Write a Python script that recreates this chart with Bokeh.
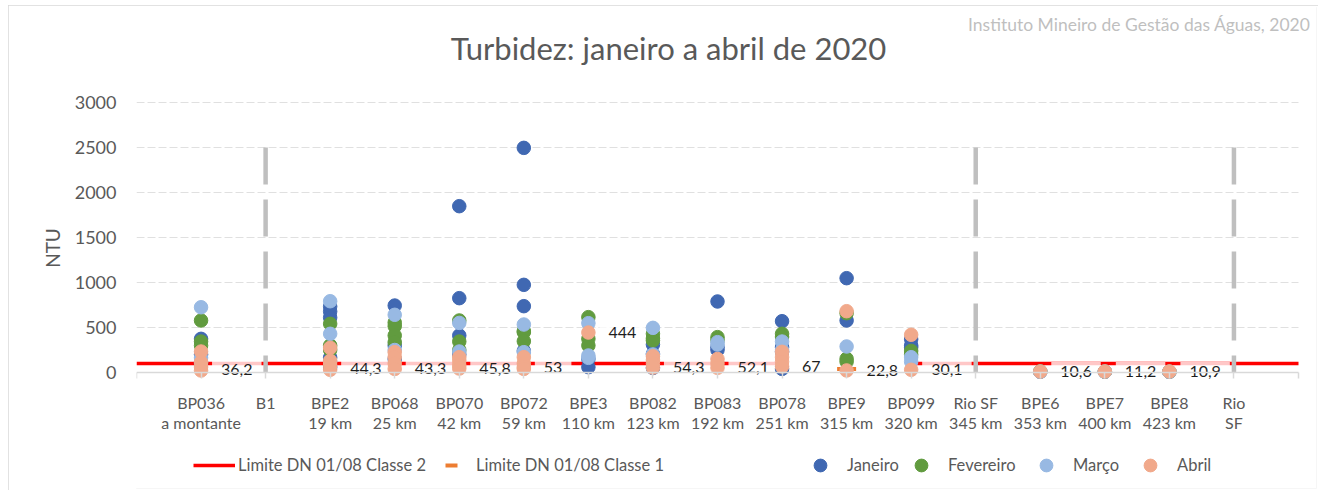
from bokeh.plotting import figure
from bokeh.models import Range1d, FixedTicker, Legend, LegendItem, Label
from bokeh.core.properties import value
from bokeh.embed import file_html
from bokeh.resources import INLINE

# ---------------- data ----------------
stations = ["BP036\na montante", "B1", "BPE2\n19 km", "BP068\n25 km", "BP070\n42 km",
            "BP072\n59 km", "BPE3\n110 km", "BP082\n123 km", "BP083\n192 km",
            "BP078\n251 km", "BPE9\n315 km", "BP099\n320 km", "Rio SF\n345 km",
            "BPE6\n353 km", "BPE7\n400 km", "BPE8\n423 km", "Rio\nSF"]

janeiro = [[374, 200, 100], [], [733, 678, 610, 166, 60], [744, 300, 150],
           [1848, 826, 411, 200], [2496, 974, 737, 240], [150, 59], [311, 207, 50],
           [789, 281, 250], [570, 281, 230, 40], [1048, 578], [370, 300, 280], [],
           [8], [9], [8], []]
fevereiro = [[578, 344, 300], [], [541, 300, 250], [555, 515, 411, 337],
             [578, 344, 250], [460, 448, 348], [615, 374, 300], [430, 380, 356],
             [393, 360], [430, 395], [659, 152, 120], [240, 200], [],
             [12], [10], [9], []]
marco = [[725, 163, 120], [], [792, 430, 120], [641, 250], [551, 233], [533, 226],
         [548, 189, 163], [496, 200], [337, 310], [344, 250], [289], [170, 120], [],
         [9], [10], [8], []]
abril = [[233, 115, 60, 22], [], [274, 130, 80, 30], [226, 170, 100, 40],
         [170, 133, 80, 44], [170, 100, 60, 40], [444], [180, 140, 100, 54.3],
         [150, 100, 52.1], [230, 170, 120, 67], [681, 22.8], [419, 30.1], [],
         [10.6], [11.2], [10.9], []]

label_values = [36.2, None, 44.3, 43.3, 45.8, 53, 444, 54.3, 52.1, 67, 22.8, 30.1,
                None, 10.6, 11.2, 10.9, None]

# Classe 2 limit along the axis positions 0..18 (gap at BPE9, which is Classe 1)
limite_classe2 = [100, 100, 100, 100, 100, 100, 100, 100, 100, 100, 100, None,
                  100, 100, 100, 100, 100, 100, 100]
limite_classe1 = [None, None, None, None, None, None, None, None, None, None, 40,
                  None, None, None, None, None, None]
divisor_topo = [None, 2500, None, None, None, None, None, None, None, None, None,
                None, 2500, None, None, None, 2500]

y_ticks = [0, 500, 1000, 1500, 2000, 2500, 3000]

months = [("Janeiro", janeiro, "#4068B2"), ("Fevereiro", fevereiro, "#619B3F"),
          ("Março", marco, "#98B9E3"), ("Abril", abril, "#F1A98B")]

# ---------------- layout constants (page pixels) ----------------
FONT = "Lato"
TXT = "#595959"
PX_Y = 0.09          # pixels per NTU
PX_X = 1162 / 18     # pixels per axis unit
Y0_PAGE = 372        # page y of NTU = 0
FL, FT, FB, FR = 136, 7, 488, 1316   # frame edges in page pixels
XMAX = len(stations) + 1

p = figure(width=1310, height=485,
           x_range=Range1d(0, XMAX + (FR - 1298) / PX_X),
           y_range=Range1d(-(FB - Y0_PAGE) / PX_Y, (Y0_PAGE - FT) / PX_Y),
           output_backend="svg", toolbar_location=None,
           min_border_left=FL - 8, min_border_right=2, min_border_top=2,
           min_border_bottom=2)
p.margin = (5, 0, 0, 8)
p.title.visible = False
p.outline_line_color = None
p.background_fill_color = "white"
p.border_fill_color = "white"
p.styles = {"outline": "2px solid #D9D9D9", "outline-offset": "-2px"}

xa = p.xaxis[0]
xa.ticker = FixedTicker(ticks=list(range(XMAX + 1)))
overrides = {0: "", XMAX: ""}
for i, s in enumerate(stations):
    overrides[i + 1] = s
xa.major_label_overrides = overrides
xa.fixed_location = 0
xa.bounds = (0, XMAX)
xa.axis_line_color = "#D9D9D9"
xa.axis_line_width = 1.5
xa.major_tick_line_color = "#D9D9D9"
xa.major_tick_line_width = 1.5
xa.major_tick_in = 0
xa.major_tick_out = 6
xa.minor_tick_line_color = None
xa.major_label_text_font = FONT
xa.major_label_text_font_size = "16px"
xa.major_label_text_color = TXT
xa.major_label_text_line_height = 1.1
xa.major_label_standoff = 14

ya = p.yaxis[0]
ya.ticker = FixedTicker(ticks=y_ticks)
ya.axis_line_color = None
ya.major_tick_line_color = None
ya.major_tick_in = 0
ya.major_tick_out = 0
ya.minor_tick_line_color = None
ya.minor_tick_in = 0
ya.minor_tick_out = 0
ya.major_label_standoff = 20
ya.major_label_text_font = FONT
ya.major_label_text_font_size = "18px"
ya.major_label_text_color = TXT
ya.axis_label = "NTU"
ya.axis_label_text_font = FONT
ya.axis_label_text_font_size = "19px"
ya.axis_label_text_font_style = "normal"
ya.axis_label_text_color = TXT
ya.axis_label_standoff = 8

p.xgrid.visible = False
p.ygrid.visible = False
gy = y_ticks[1:]
p.segment(x0=[0] * len(gy), y0=gy, x1=[XMAX] * len(gy), y1=gy,
          line_color="#E0E0E0", line_width=1, line_dash="8 3")

# Classe 2 limit line
lx = list(range(len(limite_classe2)))
ly = [float("nan") if v is None else v for v in limite_classe2]
r_c2 = p.line(lx, ly, line_color="#FF0000", line_width=3.5)

# dividers
dx = [i + 1 for i, v in enumerate(divisor_topo) if v is not None]
dy = [v for v in divisor_topo if v is not None]
p.segment(x0=dx, y0=dy, x1=dx, y1=[0] * len(dx), line_color="#BFBFBF",
          line_width=4.5, line_dash="37 15")

# data labels (with semi-transparent white box)
tx = [i + 1 for i, v in enumerate(label_values) if v is not None]
ty = [v for v in label_values if v is not None]
tt = [("%g" % v).replace(".", ",") for v in label_values if v is not None]
p.text(x=tx, y=ty, text=tt, x_offset=11, text_align="left", text_baseline="middle",
       text_font=value(FONT), text_font_size="16px", text_color="#1E1E1E",
       background_fill_color="white", background_fill_alpha=0.78,
       padding=dict(left=9, right=9, top=4, bottom=4))

# Classe 1 limit marker
c1x = [i + 1 for i, v in enumerate(limite_classe1) if v is not None]
c1y = [v for v in limite_classe1 if v is not None]
r_c1 = p.scatter(c1x, c1y, marker="dash", size=19, line_color="#ED7D31", line_width=4)

# month points
month_renderers = []
for name, data, color in months:
    xs, ys = [], []
    for i, vals in enumerate(data):
        for v in vals:
            xs.append(i + 1)
            ys.append(v)
    r = p.scatter(xs, ys, size=13.5, fill_color=color, line_color=color, line_width=1)
    month_renderers.append((name, r))

# title & source (screen units are relative to the frame's bottom-left corner)
p.add_layout(Label(x=668 - FL, y=FB - 47, x_units="screen", y_units="screen",
                   text="Turbidez: janeiro a abril de 2020", text_align="center",
                   text_baseline="middle", text_font=FONT, text_font_size="31px",
                   text_color=TXT))
p.add_layout(Label(x=1310 - FL, y=FB - 24, x_units="screen", y_units="screen",
                   text="Instituto Mineiro de Gestão das Águas, 2020", text_align="right",
                   text_baseline="middle", text_font=FONT, text_font_size="17.5px",
                   text_color="#BFBFBF"))


def add_legend(renderer, label, left, gw, gh, standoff, cy=465):
    lg = Legend(items=[LegendItem(label=label, renderers=[renderer])],
                location=(left - FL, FB - (cy + gh / 2)), orientation="horizontal",
                glyph_width=gw, glyph_height=gh, label_height=gh,
                label_standoff=standoff, padding=0, margin=0, spacing=0,
                border_line_color=None, background_fill_alpha=0,
                label_text_font=FONT, label_text_font_size="16.5px",
                label_text_color=TXT)
    p.add_layout(lg)


add_legend(r_c2, "Limite DN 01/08 Classe 2", 193, 42, 20, 3)
add_legend(r_c1, "Limite DN 01/08 Classe 1", 436, 30, 30, 10)
for (name, r), cx in zip(month_renderers, [820, 921, 1046, 1150]):
    add_legend(r, name, cx - 16, 32, 32, 11)

open("out.html", "w").write(file_html(p, INLINE))
